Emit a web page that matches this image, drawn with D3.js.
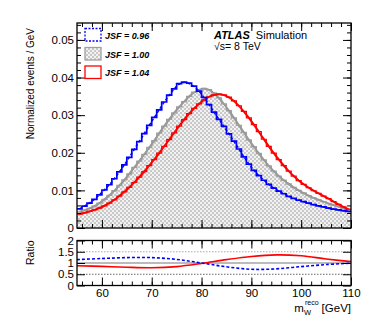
<!DOCTYPE html>
<html>
<head>
<meta charset="utf-8">
<script src="https://cdn.jsdelivr.net/npm/d3@7"></script>
<style>
  html, body { margin: 0; padding: 0; background: #ffffff; }
  svg { display: block; font-family: "Liberation Sans", Arial, sans-serif; }
</style>
</head>
<body>
<div id="chart"></div>
<script>
// m_W^reco histograms, 1 GeV bins from 55 to 110 (value = bin low edge)
const binEdges = d3.range(55, 111, 1);

const jsf096 = [
  0.0051, 0.0058, 0.0066, 0.0076, 0.0088, 0.0101, 0.0115, 0.0131, 0.0149, 0.0168,
  0.0188, 0.0209, 0.0230, 0.0251, 0.0273, 0.0294, 0.0314, 0.0335, 0.0353, 0.0370,
  0.0384, 0.0388, 0.0385, 0.0377, 0.0364, 0.0347, 0.0328, 0.0308, 0.0289, 0.0270,
  0.0250, 0.0231, 0.0210, 0.0189, 0.0170, 0.0153, 0.0139, 0.0127, 0.0116, 0.0106,
  0.0098, 0.0091, 0.0084, 0.0079, 0.0074, 0.0070, 0.0066, 0.0062, 0.0059, 0.0056,
  0.0053, 0.0050, 0.0048, 0.0046, 0.0044
];

const jsf100 = [
  0.0043, 0.0047, 0.0052, 0.0058, 0.0066, 0.0076, 0.0087, 0.0099, 0.0113, 0.0128,
  0.0144, 0.0161, 0.0178, 0.0196, 0.0214, 0.0232, 0.0252, 0.0271, 0.0289, 0.0306,
  0.0322, 0.0336, 0.0350, 0.0361, 0.0368, 0.0371, 0.0368, 0.0359, 0.0346, 0.0330,
  0.0312, 0.0293, 0.0273, 0.0254, 0.0234, 0.0216, 0.0198, 0.0181, 0.0165, 0.0151,
  0.0138, 0.0127, 0.0117, 0.0108, 0.0100, 0.0093, 0.0086, 0.0080, 0.0075, 0.0070,
  0.0065, 0.0061, 0.0057, 0.0053, 0.0049
];

const jsf104 = [
  0.0037, 0.0040, 0.0044, 0.0048, 0.0053, 0.0059, 0.0066, 0.0075, 0.0085, 0.0096,
  0.0108, 0.0121, 0.0135, 0.0150, 0.0166, 0.0182, 0.0199, 0.0217, 0.0235, 0.0253,
  0.0271, 0.0288, 0.0304, 0.0318, 0.0330, 0.0341, 0.0349, 0.0354, 0.0356, 0.0354,
  0.0348, 0.0338, 0.0325, 0.0310, 0.0293, 0.0275, 0.0256, 0.0236, 0.0217, 0.0199,
  0.0182, 0.0166, 0.0151, 0.0138, 0.0126, 0.0116, 0.0107, 0.0099, 0.0092, 0.0085,
  0.0078, 0.0070, 0.0063, 0.0056, 0.0050
];

// ratio of fitted templates to JSF = 1.00
const ratioX = [55, 60, 65, 70, 75, 80, 85, 90, 95, 100, 105, 110];
const ratio096 = [1.15, 1.20, 1.24, 1.24, 1.16, 1.00, 0.83, 0.72, 0.74, 0.84, 0.93, 0.99];
const ratio104 = [0.88, 0.85, 0.81, 0.79, 0.84, 0.98, 1.15, 1.29, 1.36, 1.32, 1.18, 1.06];

const mainTicks = [0, 0.01, 0.02, 0.03, 0.04, 0.05];
const ratioTicks = [0, 0.5, 1, 1.5, 2];
const xTicks = [60, 70, 80, 90, 100, 110];
const legendLabels = ["JSF = 0.96", "JSF = 1.00", "JSF = 1.04"];

const width = 390;
const height = 321;

function drawFrameAxes(g, x, y, majorY, minorY, showX, yFormat) {
    const w = x.range()[1] - x.range()[0];
    const h = y.range()[0] - y.range()[1];
    const x0 = x.range()[0], y1 = y.range()[1], y0 = y.range()[0];

    const minorX = d3.range(56, 110, 2);

    // bottom
    g.append("g").attr("transform", `translate(0,${y0})`)
        .call(d3.axisBottom(x).tickValues(minorX).tickSize(-4).tickFormat(""));
    g.append("g").attr("transform", `translate(0,${y0})`)
        .call(d3.axisBottom(x).tickValues(xTicks).tickSize(-8).tickPadding(3)
            .tickFormat(showX ? d3.format("d") : ""));
    // top
    g.append("g").attr("transform", `translate(0,${y1})`)
        .call(d3.axisTop(x).tickValues(minorX).tickSize(-4).tickFormat(""));
    g.append("g").attr("transform", `translate(0,${y1})`)
        .call(d3.axisTop(x).tickValues(xTicks).tickSize(-8).tickFormat(""));
    // left / right
    if (minorY) {
        g.append("g").attr("transform", `translate(${x0},0)`)
            .call(d3.axisLeft(y).tickValues(minorY).tickSize(-4).tickFormat(""));
        g.append("g").attr("transform", `translate(${x.range()[1]},0)`)
            .call(d3.axisRight(y).tickValues(minorY).tickSize(-4).tickFormat(""));
    }
    g.append("g").attr("transform", `translate(${x0},0)`)
        .call(d3.axisLeft(y).tickValues(majorY).tickSize(-8).tickPadding(3).tickFormat(yFormat));
    g.append("g").attr("transform", `translate(${x.range()[1]},0)`)
        .call(d3.axisRight(y).tickValues(majorY).tickSize(-8).tickFormat(""));

    g.selectAll(".domain").remove();
    g.selectAll(".tick line").attr("stroke", "#000").attr("stroke-width", 1);
    g.selectAll(".tick text").attr("fill", "#000").style("font-size", "11.5px");

    g.append("rect")
        .attr("x", x0).attr("y", y1).attr("width", w).attr("height", h)
        .attr("fill", "none").attr("stroke", "#000").attr("stroke-width", 1.3);
}

function renderChart() {
    const svg = d3.select("#chart").append("svg")
        .attr("width", width).attr("height", height);

    // checkered fill, ROOT-style hatch
    const defs = svg.append("defs");
    const pat = defs.append("pattern").attr("id", "checker")
        .attr("width", 4).attr("height", 4).attr("patternUnits", "userSpaceOnUse");
    pat.append("rect").attr("width", 4).attr("height", 4).attr("fill", "#f2f2f2");
    pat.append("rect").attr("width", 2).attr("height", 2).attr("fill", "#c8c8c8");
    pat.append("rect").attr("x", 2).attr("y", 2).attr("width", 2).attr("height", 2).attr("fill", "#c8c8c8");

    const x = d3.scaleLinear().domain([55, 110]).range([77, 351]);
    const y = d3.scaleLinear().domain([0, 0.0545]).range([228, 23]);
    const yr = d3.scaleLinear().domain([0, 2]).range([285.5, 240.5]);

    const main = svg.append("g");

    const stepPts = vals => vals.map((v, i) => [binEdges[i], v]).concat([[110, vals[vals.length - 1]]]);
    const centerPts = vals => vals.map((v, i) => [binEdges[i] + 0.5, v]);

    const step = d3.line().x(d => x(d[0])).y(d => y(d[1])).curve(d3.curveStepAfter);
    const stepArea = d3.area().x(d => x(d[0])).y0(y(0)).y1(d => y(d[1])).curve(d3.curveStepAfter);
    const smooth = d3.line().x(d => x(d[0])).y(d => y(d[1])).curve(d3.curveBasis);

    // JSF = 1.00 filled histogram
    main.append("path").datum(stepPts(jsf100))
        .attr("d", stepArea).attr("fill", "url(#checker)");
    main.append("path").datum(stepPts(jsf100))
        .attr("d", step).attr("fill", "none").attr("stroke", "#a0a0a0").attr("stroke-width", 1.3);
    main.append("path").datum(centerPts(jsf100))
        .attr("d", smooth).attr("fill", "none").attr("stroke", "#999").attr("stroke-width", 2);

    // JSF = 1.04
    main.append("path").datum(stepPts(jsf104))
        .attr("d", step).attr("fill", "none").attr("stroke", "#ff0000").attr("stroke-width", 1.2);
    main.append("path").datum(centerPts(jsf104))
        .attr("d", smooth).attr("fill", "none").attr("stroke", "#ff0000").attr("stroke-width", 2);

    // JSF = 0.96
    main.append("path").datum(stepPts(jsf096))
        .attr("d", step).attr("fill", "none").attr("stroke", "#0000ff").attr("stroke-width", 1.7);
    main.append("path").datum(centerPts(jsf096))
        .attr("d", smooth).attr("fill", "none").attr("stroke", "#0000ff")
        .attr("stroke-width", 1.5).attr("stroke-dasharray", "3,2");

    drawFrameAxes(main, x, y, mainTicks, d3.range(0.002, 0.0545, 0.002), false,
        d => d === 0 ? "0" : d3.format(".2f")(d));

    // legend
    const leg = svg.append("g");
    const rowY = [28.5, 47.5, 66];
    leg.append("rect").attr("x", 85).attr("y", rowY[0]).attr("width", 16).attr("height", 12.5)
        .attr("fill", "#fff").attr("stroke", "#0000ff").attr("stroke-width", 1.3).attr("stroke-dasharray", "2,1.5");
    leg.append("rect").attr("x", 85).attr("y", rowY[1]).attr("width", 16).attr("height", 12.5)
        .attr("fill", "url(#checker)").attr("stroke", "#a0a0a0").attr("stroke-width", 1.3);
    leg.append("rect").attr("x", 85).attr("y", rowY[2]).attr("width", 16).attr("height", 12.5)
        .attr("fill", "#fff").attr("stroke", "#ff0000").attr("stroke-width", 1.3);
    legendLabels.forEach((t, i) => {
        leg.append("text").attr("x", 105).attr("y", rowY[i] + 10)
            .style("font-size", "9px").style("font-weight", "bold").style("font-style", "italic")
            .text(t);
    });

    // ATLAS label
    const atlas = svg.append("text").attr("x", 214).attr("y", 38.5).style("font-size", "11px");
    atlas.append("tspan").style("font-weight", "bold").style("font-style", "italic").text("ATLAS");
    atlas.append("tspan").attr("dx", 6).text("Simulation");
    svg.append("text").attr("x", 214).attr("y", 49.5).style("font-size", "10.5px").text("\u221As= 8 TeV");

    // ratio pad
    const rg = svg.append("g");
    rg.append("line").attr("x1", 77).attr("x2", 351).attr("y1", yr(1.5)).attr("y2", yr(1.5))
        .attr("stroke", "#aaa").attr("stroke-width", 1.2).attr("stroke-dasharray", "1.5,1.5");
    rg.append("line").attr("x1", 77).attr("x2", 351).attr("y1", yr(0.5)).attr("y2", yr(0.5))
        .attr("stroke", "#666").attr("stroke-width", 1).attr("stroke-dasharray", "1.5,1.5");
    rg.append("line").attr("x1", 77).attr("x2", 351).attr("y1", yr(1)).attr("y2", yr(1))
        .attr("stroke", "#bbb").attr("stroke-width", 2);

    const rline = d3.line().x(d => x(d[0])).y(d => yr(d[1])).curve(d3.curveCatmullRom);
    rg.append("path").datum(ratioX.map((v, i) => [v, ratio104[i]]))
        .attr("d", rline).attr("fill", "none").attr("stroke", "#ff0000").attr("stroke-width", 1.6);
    rg.append("path").datum(ratioX.map((v, i) => [v, ratio096[i]]))
        .attr("d", rline).attr("fill", "none").attr("stroke", "#0000ff")
        .attr("stroke-width", 1.6).attr("stroke-dasharray", "3,2");

    drawFrameAxes(rg, x, yr, ratioTicks, null, true, d => d3.format("")(d));

    // axis titles
    svg.append("text").attr("transform", "translate(34,28) rotate(-90)")
        .attr("text-anchor", "end").style("font-size", "10px").text("Normalized events / GeV");
    svg.append("text").attr("transform", "translate(34,240.5) rotate(-90)")
        .attr("text-anchor", "end").style("font-size", "10.5px").text("Ratio");

    const xt = svg.append("text").attr("x", 351).attr("y", 312)
        .attr("text-anchor", "end").style("font-size", "11.5px");
    xt.append("tspan").text("m");
    xt.append("tspan").attr("dy", 3).style("font-size", "7.5px").text("W");
    xt.append("tspan").attr("dx", -6).attr("dy", -10).style("font-size", "7px").text("reco");
    xt.append("tspan").attr("dx", 3).attr("dy", 7).text("[GeV]");
}

document.addEventListener("DOMContentLoaded", renderChart);
</script>
</body>
</html>
